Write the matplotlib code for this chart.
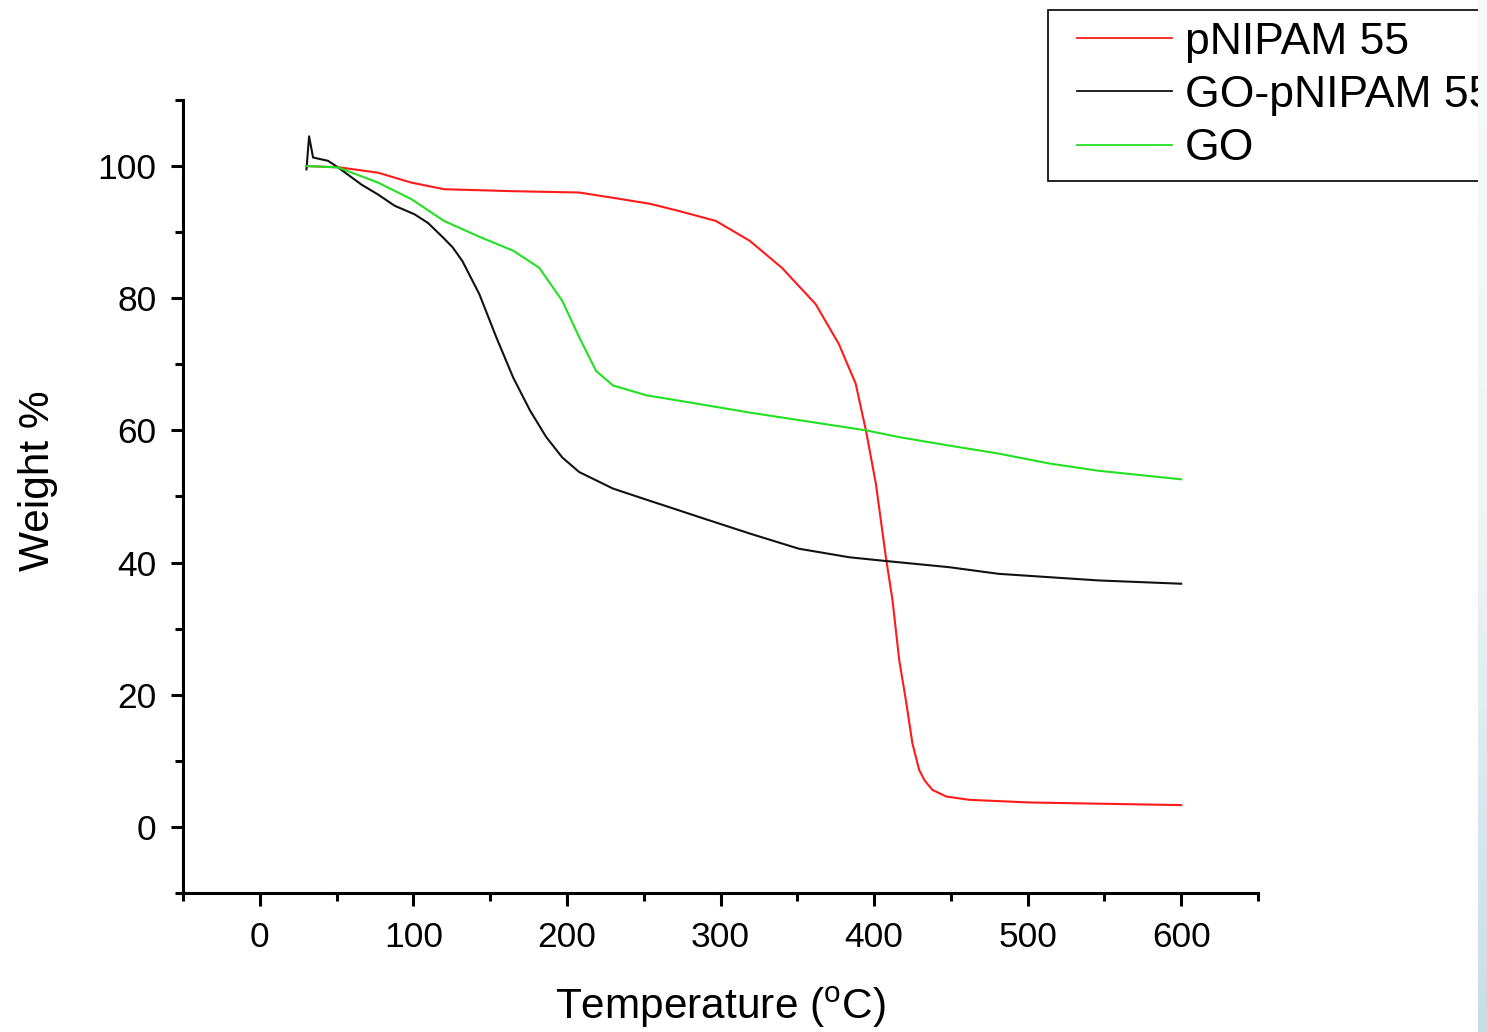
import numpy as np
import matplotlib
matplotlib.use("Agg")
import matplotlib.pyplot as plt
from matplotlib.lines import Line2D
from matplotlib.legend_handler import HandlerLine2D
from matplotlib.ticker import MultipleLocator
from matplotlib.colors import LinearSegmentedColormap

plt.rcParams['font.family'] = ['Liberation Sans', 'DejaVu Sans']
plt.rcParams['mathtext.fontset'] = 'custom'
plt.rcParams['mathtext.rm'] = 'Liberation Sans'

# ---- data ----
red_T = [30.6, 52, 77, 98.7, 120, 165, 208, 230, 254, 273, 297, 319, 340, 362, 377, 388,
         394.7, 401.2, 407.7, 412, 416.4, 420.7, 425, 429.4, 433, 438, 447, 462, 501, 600]
red_W = [100, 99.8, 99.0, 97.5, 96.5, 96.2, 96.0, 95.2, 94.3, 93.2, 91.7, 88.7, 84.6, 79.1, 73.1, 67.1,
         60.0, 51.9, 40.8, 34.3, 25.2, 19.2, 12.6, 8.6, 7.0, 5.6, 4.6, 4.1, 3.7, 3.3]

black_T = [30.4, 32.1, 34.7, 44.4, 51, 66.2, 77, 87.8, 100.8, 109.5, 119.3, 125.6, 132, 143, 154,
           165, 176, 186.5, 197, 208, 230, 252, 273, 286, 319, 351, 384, 405, 449, 481, 546, 600]
black_W = [99.5, 104.5, 101.3, 100.8, 99.8, 97.2, 95.7, 94.0, 92.7, 91.4, 89.2, 87.7, 85.6, 80.6, 74.1,
           68.0, 63.0, 59.0, 55.9, 53.7, 51.2, 49.5, 47.9, 46.9, 44.4, 42.1, 40.8, 40.3, 39.3, 38.3, 37.3, 36.8]

green_T = [30.6, 51, 77, 98.7, 120, 143, 165, 182, 197, 208, 219, 230, 252, 273, 319, 395, 416,
           449, 481, 514, 546, 600]
green_W = [100, 99.8, 97.5, 95.0, 91.7, 89.3, 87.2, 84.6, 79.6, 74.1, 69.0, 66.8, 65.3, 64.5, 62.7, 60.0, 59.0,
           57.7, 56.5, 55.0, 53.9, 52.6]

labels = ['pNIPAM 55', 'GO-pNIPAM 55', 'GO']
colors = ['#ff1a1a', '#111111', '#22e022']

x_major = [0, 100, 200, 300, 400, 500, 600]
y_major = [0, 20, 40, 60, 80, 100]

# ---- figure ----
W, H = 1487, 1032
fig = plt.figure(figsize=(W / 100, H / 100), dpi=100)
ax = fig.add_axes([183 / W, 1 - 893 / H, (1258 - 183) / W, (893 - 100) / H])

for T, Wt, c, lab in zip([red_T, black_T, green_T], [red_W, black_W, green_W], colors, labels):
    ax.plot(T, Wt, color=c, lw=1.5, label=lab, solid_joinstyle='round')

ax.set_xlim(-50, 650)
ax.set_ylim(-10, 110)
ax.set_xticks(x_major)
ax.set_yticks(y_major)
ax.xaxis.set_minor_locator(MultipleLocator(50))
ax.yaxis.set_minor_locator(MultipleLocator(10))

for s in ['top', 'right']:
    ax.spines[s].set_visible(False)
for s in ['left', 'bottom']:
    ax.spines[s].set_linewidth(2.2)

ax.tick_params(which='major', direction='out', length=9, width=2.2, labelsize=25.5, pad=11)
ax.tick_params(which='minor', direction='out', length=5.5, width=2.2)
ax.tick_params(axis='y', which='major', pad=10)

ax.set_xlabel(r'Temperature ($^{\mathrm{o}}$C)', fontsize=30.5)
ax.set_ylabel('Weight %', fontsize=30.5)
ax.xaxis.set_label_coords(0.5, -0.116)
ax.yaxis.set_label_coords(-0.116, 0.52)

leg = ax.legend(loc='upper left', bbox_to_anchor=(1048 / W, 1 - 10 / H), bbox_transform=fig.transFigure,
                fontsize=32, frameon=True, fancybox=False, edgecolor='black', framealpha=1,
                borderpad=0.26, labelspacing=0.28, handlelength=2.53, handletextpad=0.29,
                borderaxespad=0, handler_map={Line2D: HandlerLine2D(xpad=0.39)})
leg.get_frame().set_linewidth(1.2)
for line in leg.get_lines():
    line.set_linewidth(1.3)

# light blue strip at right edge
sax = fig.add_axes([1478 / W, 0, (W - 1478) / W, 1])
grad = np.linspace(0, 1, 256).reshape(-1, 1)
cmap = LinearSegmentedColormap.from_list('strip', ['#f5f9fb', '#eef5f6', '#c6dde6'])
sax.imshow(grad, aspect='auto', cmap=cmap, extent=[0, 1, 0, 1], origin='upper')
sax.set_axis_off()

fig.savefig('out.png', dpi=100)
